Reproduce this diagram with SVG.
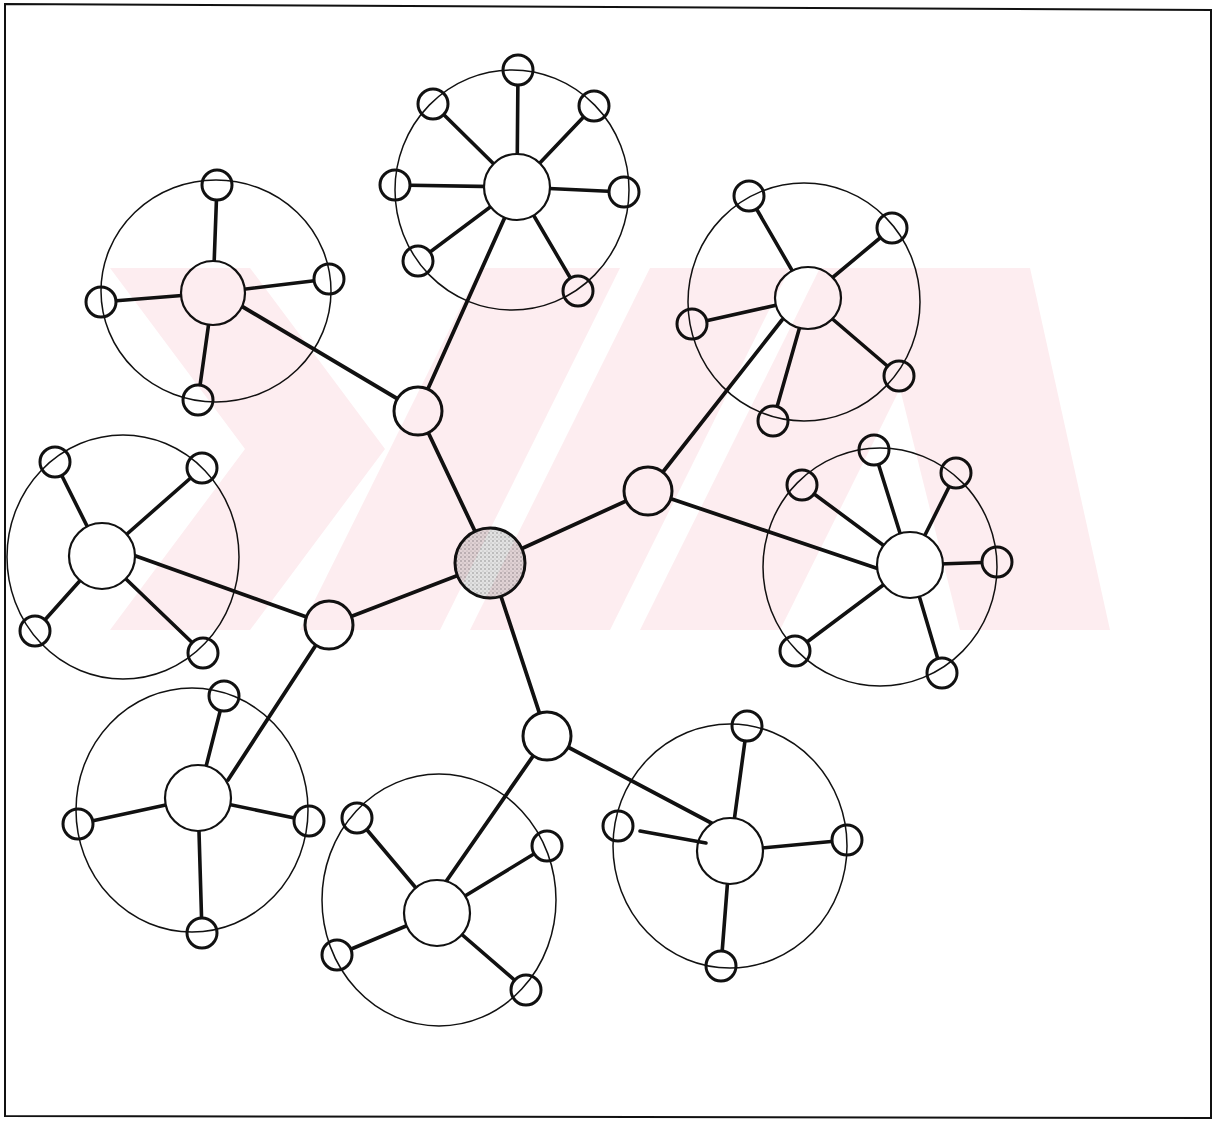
<svg xmlns="http://www.w3.org/2000/svg" width="1216" height="1122" viewBox="0 0 1216 1122">
<style>
.ring{fill:none;stroke:#111;stroke-width:1.5}
.hubc{fill:#fff;stroke:#111;stroke-width:2.2}
.sat{fill:#fff;stroke:#111;stroke-width:3}
.mid{fill:#fff;stroke:#111;stroke-width:3}
.sp{stroke:#111;stroke-width:3.6;stroke-linecap:round}
.edge{stroke:#111;stroke-width:3.8;stroke-linecap:round}
.wm{fill:#fdedf0}
</style>
<defs>
<pattern id="stip" width="4" height="4" patternUnits="userSpaceOnUse">
<rect width="4" height="4" fill="#e2e2e2"/>
<circle cx="1" cy="1" r="0.8" fill="#8f8f8f"/>
<circle cx="3" cy="3" r="0.6" fill="#a8a8a8"/>
</pattern>
</defs>
<rect width="1216" height="1122" fill="#fff"/>
<path d="M5,4 L1211,10 L1211,1118 L5,1116 Z" fill="none" stroke="#111" stroke-width="2"/>

<g id="connectors">
<line class="edge" x1="490" y1="563" x2="418" y2="411"/>
<line class="edge" x1="490" y1="563" x2="648" y2="491"/>
<line class="edge" x1="490" y1="563" x2="329" y2="625"/>
<line class="edge" x1="490" y1="563" x2="547" y2="736"/>
<line class="edge" x1="418" y1="411" x2="505" y2="217"/>
<line class="edge" x1="418" y1="411" x2="243" y2="307"/>
<line class="edge" x1="648" y1="491" x2="782" y2="320"/>
<line class="edge" x1="648" y1="491" x2="879" y2="569"/>
<line class="edge" x1="329" y1="625" x2="133" y2="555"/>
<line class="edge" x1="329" y1="625" x2="228" y2="780"/>
<line class="edge" x1="547" y1="736" x2="445" y2="883"/>
<line class="edge" x1="547" y1="736" x2="717" y2="826"/>
</g>

<g id="hub"><circle cx="490" cy="563" r="35" fill="url(#stip)" stroke="#111" stroke-width="3"/></g>
<g id="relay-a"><circle class="mid" cx="418" cy="411" r="24"/></g>
<g id="relay-b"><circle class="mid" cx="648" cy="491" r="24"/></g>
<g id="relay-c"><circle class="mid" cx="329" cy="625" r="24"/></g>
<g id="relay-d"><circle class="mid" cx="547" cy="736" r="24"/></g>

<g id="cluster-top">
<g>
<line class="sp" x1="517" y1="187" x2="518" y2="70"/>
<line class="sp" x1="517" y1="187" x2="433" y2="104"/>
<line class="sp" x1="517" y1="187" x2="594" y2="106"/>
<line class="sp" x1="517" y1="187" x2="395" y2="185"/>
<line class="sp" x1="517" y1="187" x2="624" y2="192"/>
<line class="sp" x1="517" y1="187" x2="418" y2="261"/>
<line class="sp" x1="517" y1="187" x2="578" y2="291"/>
</g>
<circle class="hubc" cx="517" cy="187" r="33"/>
<circle class="sat" cx="518" cy="70" r="15"/>
<circle class="sat" cx="433" cy="104" r="15"/>
<circle class="sat" cx="594" cy="106" r="15"/>
<circle class="sat" cx="395" cy="185" r="15"/>
<circle class="sat" cx="624" cy="192" r="15"/>
<circle class="sat" cx="418" cy="261" r="15"/>
<circle class="sat" cx="578" cy="291" r="15"/>
<ellipse class="ring" cx="512" cy="190" rx="117" ry="120"/>
</g>

<g id="cluster-top-left">
<g>
<line class="sp" x1="213" y1="293" x2="217" y2="185"/>
<line class="sp" x1="213" y1="293" x2="329" y2="279"/>
<line class="sp" x1="213" y1="293" x2="101" y2="302"/>
<line class="sp" x1="213" y1="293" x2="198" y2="400"/>
</g>
<circle class="hubc" cx="213" cy="293" r="32"/>
<circle class="sat" cx="217" cy="185" r="15"/>
<circle class="sat" cx="329" cy="279" r="15"/>
<circle class="sat" cx="101" cy="302" r="15"/>
<circle class="sat" cx="198" cy="400" r="15"/>
<ellipse class="ring" cx="216" cy="291" rx="115" ry="111"/>
</g>

<g id="cluster-top-right">
<g>
<line class="sp" x1="808" y1="298" x2="749" y2="196"/>
<line class="sp" x1="808" y1="298" x2="892" y2="228"/>
<line class="sp" x1="808" y1="298" x2="692" y2="324"/>
<line class="sp" x1="808" y1="298" x2="899" y2="376"/>
<line class="sp" x1="808" y1="298" x2="773" y2="421"/>
</g>
<ellipse class="hubc" cx="808" cy="298" rx="33" ry="31"/>
<circle class="sat" cx="749" cy="196" r="15"/>
<circle class="sat" cx="892" cy="228" r="15"/>
<circle class="sat" cx="692" cy="324" r="15"/>
<circle class="sat" cx="899" cy="376" r="15"/>
<circle class="sat" cx="773" cy="421" r="15"/>
<ellipse class="ring" cx="804" cy="302" rx="116" ry="119"/>
</g>

<g id="cluster-left">
<g>
<line class="sp" x1="102" y1="556" x2="55" y2="462"/>
<line class="sp" x1="102" y1="556" x2="202" y2="468"/>
<line class="sp" x1="102" y1="556" x2="35" y2="631"/>
<line class="sp" x1="102" y1="556" x2="203" y2="653"/>
</g>
<circle class="hubc" cx="102" cy="556" r="33"/>
<circle class="sat" cx="55" cy="462" r="15"/>
<circle class="sat" cx="202" cy="468" r="15"/>
<circle class="sat" cx="35" cy="631" r="15"/>
<circle class="sat" cx="203" cy="653" r="15"/>
<ellipse class="ring" cx="123" cy="557" rx="116" ry="122"/>
</g>

<g id="cluster-right">
<g>
<line class="sp" x1="910" y1="565" x2="874" y2="450"/>
<line class="sp" x1="910" y1="565" x2="802" y2="485"/>
<line class="sp" x1="910" y1="565" x2="956" y2="473"/>
<line class="sp" x1="910" y1="565" x2="997" y2="562"/>
<line class="sp" x1="910" y1="565" x2="795" y2="651"/>
<line class="sp" x1="910" y1="565" x2="942" y2="673"/>
</g>
<circle class="hubc" cx="910" cy="565" r="33"/>
<circle class="sat" cx="874" cy="450" r="15"/>
<circle class="sat" cx="802" cy="485" r="15"/>
<circle class="sat" cx="956" cy="473" r="15"/>
<circle class="sat" cx="997" cy="562" r="15"/>
<circle class="sat" cx="795" cy="651" r="15"/>
<circle class="sat" cx="942" cy="673" r="15"/>
<ellipse class="ring" cx="880" cy="567" rx="117" ry="119"/>
</g>

<g id="cluster-bottom-left">
<g>
<line class="sp" x1="198" y1="798" x2="224" y2="696"/>
<line class="sp" x1="198" y1="798" x2="78" y2="824"/>
<line class="sp" x1="198" y1="798" x2="309" y2="821"/>
<line class="sp" x1="198" y1="798" x2="202" y2="933"/>
</g>
<circle class="hubc" cx="198" cy="798" r="33"/>
<circle class="sat" cx="224" cy="696" r="15"/>
<circle class="sat" cx="78" cy="824" r="15"/>
<circle class="sat" cx="309" cy="821" r="15"/>
<circle class="sat" cx="202" cy="933" r="15"/>
<ellipse class="ring" cx="192" cy="810" rx="116" ry="122"/>
</g>

<g id="cluster-bottom">
<g>
<line class="sp" x1="437" y1="913" x2="357" y2="818"/>
<line class="sp" x1="437" y1="913" x2="547" y2="846"/>
<line class="sp" x1="437" y1="913" x2="337" y2="955"/>
<line class="sp" x1="437" y1="913" x2="526" y2="990"/>
</g>
<circle class="hubc" cx="437" cy="913" r="33"/>
<circle class="sat" cx="357" cy="818" r="15"/>
<circle class="sat" cx="547" cy="846" r="15"/>
<circle class="sat" cx="337" cy="955" r="15"/>
<circle class="sat" cx="526" cy="990" r="15"/>
<ellipse class="ring" cx="439" cy="900" rx="117" ry="126"/>
</g>

<g id="cluster-bottom-right">
<g>
<line class="sp" x1="730" y1="851" x2="747" y2="726"/>
<line class="sp" x1="730" y1="851" x2="847" y2="840"/>
<line class="sp" x1="730" y1="851" x2="721" y2="966"/>
</g>
<circle class="hubc" cx="730" cy="851" r="33"/>
<line class="sp" x1="640" y1="831" x2="706" y2="843"/>
<circle class="sat" cx="747" cy="726" r="15"/>
<circle class="sat" cx="618" cy="826" r="15"/>
<circle class="sat" cx="847" cy="840" r="15"/>
<circle class="sat" cx="721" cy="966" r="15"/>
<ellipse class="ring" cx="730" cy="846" rx="117" ry="122"/>
</g>

<g id="watermark" style="mix-blend-mode:multiply">
<polygon class="wm" points="110,268 250,268 385,449 250,630 110,630 245,449"/>
<polygon class="wm" points="300,630 440,630 620,268 480,268"/>
<polygon class="wm" points="470,630 610,630 790,268 650,268"/>
<polygon class="wm" points="640,630 780,630 960,268 820,268"/>
<polygon class="wm" points="870,268 1030,268 1110,630 960,630"/>
</g>
</svg>
